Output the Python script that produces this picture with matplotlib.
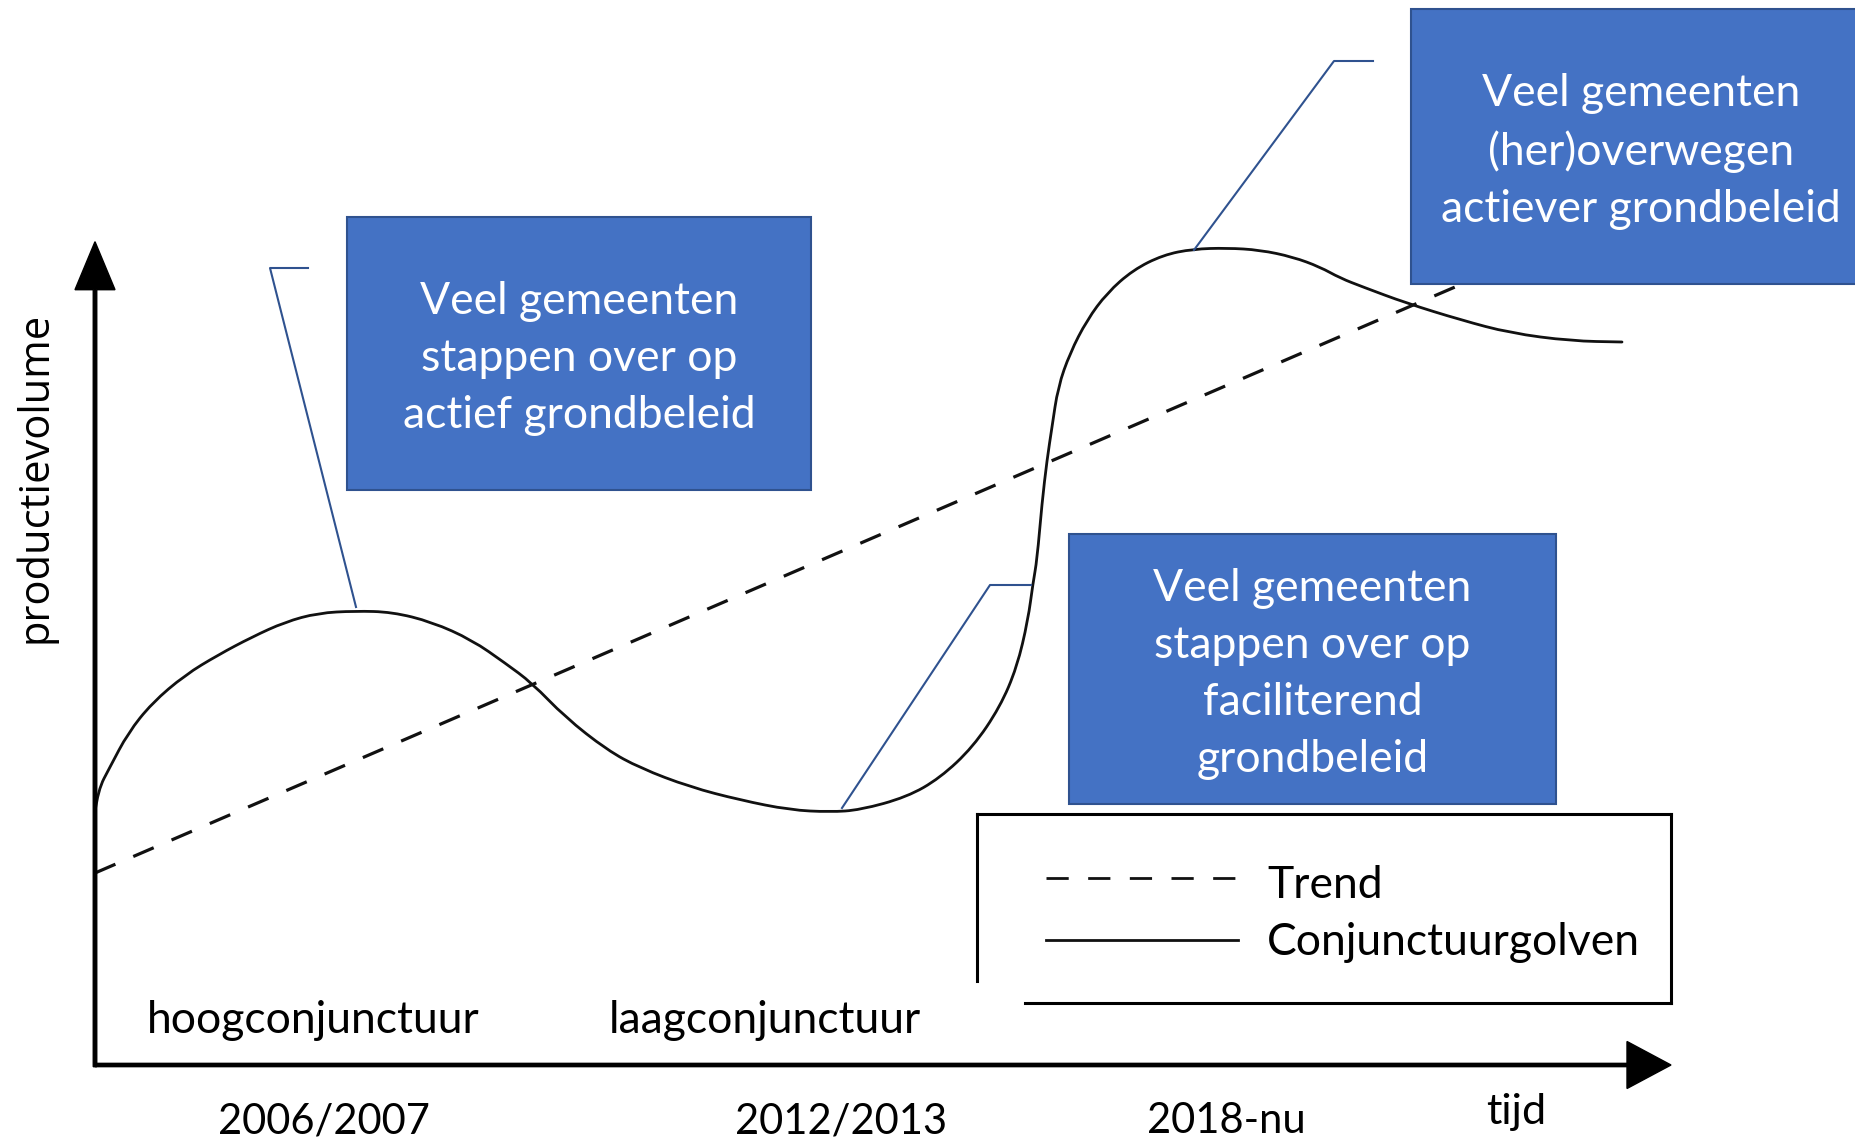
"""
Conjunctuurgolven en trend van het productievolume, met de momenten
waarop gemeenten van grondbeleid wisselen.
"""

import matplotlib

matplotlib.use("Agg")
import matplotlib.pyplot as plt
from matplotlib.patches import PathPatch, Rectangle
from matplotlib.path import Path

plt.rcParams["lines.scale_dashes"] = False

# --- data (tijd t, productievolume v) ---
wave_t = [0, 3, 15, 33, 57, 90, 123, 157, 190, 223, 260, 297, 337, 377, 410,
          437, 470, 512, 545, 595, 645, 695, 735, 765, 812, 845, 878, 905,
          922, 933, 938, 942, 947, 952, 957, 963, 975, 992, 1012, 1038, 1068,
          1098, 1132, 1165, 1198, 1225, 1245, 1268, 1311, 1366, 1415, 1476,
          1527]
wave_v = [253, 275, 298, 332, 362, 390, 410, 428, 443, 452, 454, 453, 443,
          425, 402, 382, 348, 315, 297, 278, 265, 255, 253, 255, 268, 287,
          318, 358, 398, 445, 482, 505, 562, 605, 638, 678, 712, 745, 772,
          795, 810, 816, 817, 815, 808, 798, 787, 778, 762, 745, 732, 724,
          723]

trend_t = [0, 1367]
trend_v = [192, 781]

box_texts = [
    "Veel gemeenten\nstappen over op\nactief grondbeleid",
    "Veel gemeenten\n(her)overwegen\nactiever grondbeleid",
    "Veel gemeenten\nstappen over op\nfaciliterend\ngrondbeleid",
]
phase_labels = ["hoogconjunctuur", "laagconjunctuur"]
phase_t = [218, 670]
period_labels = ["2006/2007", "2012/2013", "2018-nu"]
period_t = [229, 746, 1131]
legend_labels = ["Trend", "Conjunctuurgolven"]
x_label = "tijd"
y_label = "productievolume"

# --- layout ---
BOXES = [  # (t0, v0, breedte, hoogte)
    (252, 575, 464, 273),
    (1316, 781, 460, 275),
    (974, 261, 487, 270),
]
LEADERS = [
    ([261, 175, 213], [458, 797, 797]),
    ([1099, 1239, 1278], [815, 1004, 1004]),
    ([747, 895, 936], [257, 480, 480]),
]
BOX_FILL = "#4472C4"
BOX_EDGE = "#2F528F"
TXT_FONT = ["Lato", "DejaVu Sans"]
DASH = (0, (16, 14))


def smooth_path(xs, ys):
    """Quadratic Bezier through the midpoints of the read-off points."""
    pts = list(zip(xs, ys))
    verts = [pts[0]]
    codes = [Path.MOVETO]
    for i in range(1, len(pts) - 1):
        mid = ((pts[i][0] + pts[i + 1][0]) / 2, (pts[i][1] + pts[i + 1][1]) / 2)
        verts += [pts[i], mid]
        codes += [Path.CURVE3, Path.CURVE3]
    verts.append(pts[-1])
    codes.append(Path.LINETO)
    return Path(verts, codes)


fig = plt.figure(figsize=(18.56, 11.40), dpi=100)
ax = fig.add_axes([0, 0, 1, 1])
ax.set_xlim(-95, 1761)
ax.set_ylim(-75, 1065)
ax.axis("off")

# assen met pijlpunten
ax.arrow(0, -1.7, 0, 825, width=3.5, head_width=40, head_length=48,
         length_includes_head=True, color="black", zorder=5)
ax.arrow(0, 0, 1576, 0, width=3.3, head_width=47, head_length=44,
         length_includes_head=True, color="black", zorder=5)

# trend en golven
ax.plot(trend_t, trend_v, color="#111111", lw=2.3, linestyle=DASH, zorder=2)
ax.add_patch(PathPatch(smooth_path(wave_t, wave_v), facecolor="none",
                       edgecolor="#111111", lw=2.0, zorder=3,
                       joinstyle="round", capstyle="round"))

# tekstvakken met verwijslijnen
for (t0, v0, w, h), text, (lt, lv) in zip(BOXES, box_texts, LEADERS):
    ax.plot(lt, lv, color=BOX_EDGE, lw=1.5, zorder=4)
    ax.add_patch(Rectangle((t0, v0), w, h, facecolor=BOX_FILL,
                           edgecolor=BOX_EDGE, lw=1.5, zorder=6))
    ax.text(t0 + w / 2, v0 + h / 2 - 5, text, color="white", fontsize=32,
            family=TXT_FONT, ha="center", va="center", linespacing=1.48,
            zorder=7)

# legenda (kader met open hoek linksonder)
leg_kw = dict(color="black", lw=2.2, zorder=4, solid_capstyle="projecting")
ax.plot([882, 1576], [251.5, 251.5], **leg_kw)
ax.plot([1576, 1576], [251.5, 62], **leg_kw)
ax.plot([930, 1576], [62, 62], **leg_kw)
ax.plot([882, 882], [251.5, 84], **leg_kw)
ax.plot([951, 1143], [187.5, 187.5], color="#111111", lw=2.0, linestyle=DASH)
ax.plot([951, 1143], [125, 125], color="#111111", lw=2.0)
ax.text(1172, 167, legend_labels[0], fontsize=32, family=TXT_FONT,
        va="baseline", ha="left")
ax.text(1172, 110, legend_labels[1], fontsize=32, family=TXT_FONT,
        va="baseline", ha="left")

# labels langs de tijdas
for t, lab in zip(phase_t, phase_labels):
    ax.text(t, 32, lab, fontsize=32, family=TXT_FONT, ha="center",
            va="baseline")
for t, lab in zip(period_t, period_labels):
    ax.text(t, -68, lab, fontsize=30, family=TXT_FONT, ha="center",
            va="baseline")
ax.text(1421, -59, x_label, fontsize=31, family=TXT_FONT, ha="center",
        va="baseline")
ax.text(-60, 588, y_label, fontsize=30, family=["Open Sans", "DejaVu Sans"],
        rotation=90, ha="center", va="center")

fig.savefig("out.png", dpi=100)
plt.close(fig)
